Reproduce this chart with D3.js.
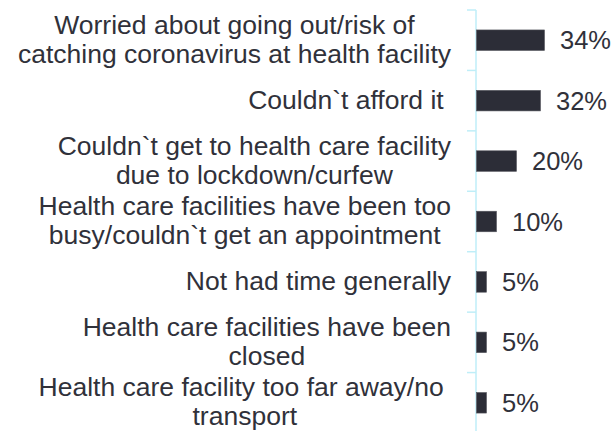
<!DOCTYPE html>
<html>
<head>
<meta charset="utf-8">
<script src="https://cdn.jsdelivr.net/npm/d3@7/dist/d3.min.js"></script>
<style>
  html, body { margin: 0; padding: 0; background: #ffffff; }
  svg { display: block; }
  text { font-family: "Liberation Sans", Arial, sans-serif; fill: #30313a; }
</style>
</head>
<body>
<svg id="chart" width="615" height="431"></svg>
<script>
// ---- data ----
const categories = [
  ["Worried about going out/risk of", "catching coronavirus at health facility"],
  ["Couldn`t afford it "],
  ["Couldn`t get to health care facility", "due to lockdown/curfew"],
  ["Health care facilities have been too", "busy/couldn`t get an appointment"],
  ["Not had time generally"],
  ["Health care facilities have been", "closed"],
  ["Health care facility too far away/no ", "transport"]
];
const values = [34, 32, 20, 10, 5, 5, 5];
const valueLabels = ["34%", "32%", "20%", "10%", "5%", "5%", "5%"];

// ---- layout ----
const W = 615, H = 431;
const axisX = 476;
const plotTop = 10, plotBottom = 433;
const fontSize = 26.5;
const valueFontSize = 25.5;
const lineH = 29;
const labelRight = 451;

const svg = d3.select("#chart");

const y = d3.scaleBand()
  .domain(d3.range(categories.length))
  .range([plotTop, plotBottom])
  .paddingInner(0.66)
  .paddingOuter(0.33);

const x = d3.scaleLinear().domain([0, 40]).range([axisX, axisX + 80]);

// axis line + ticks at band boundaries
const boundaries = d3.range(categories.length + 1).map(i => plotTop + i * (plotBottom - plotTop) / categories.length);
const axisColor = "#bfeef8";
svg.append("line")
  .attr("x1", axisX).attr("x2", axisX)
  .attr("y1", plotTop).attr("y2", H)
  .attr("stroke", axisColor).attr("stroke-width", 1.5);
svg.selectAll("line.tick").data(boundaries).enter().append("line")
  .attr("class", "tick")
  .attr("x1", axisX - 9).attr("x2", axisX)
  .attr("y1", d => d).attr("y2", d => d)
  .attr("stroke", axisColor).attr("stroke-width", 1.5);

// bars
svg.selectAll("rect.bar").data(values).enter().append("rect")
  .attr("class", "bar")
  .attr("x", x(0) + 0.5)
  .attr("y", (d, i) => y(i))
  .attr("width", d => x(d) - x(0))
  .attr("height", y.bandwidth())
  .attr("fill", "#2c2d37")
  .attr("stroke", "#55565e")
  .attr("stroke-width", 0.6);

// value labels
svg.selectAll("text.val").data(values).enter().append("text")
  .attr("class", "val")
  .attr("x", d => x(d) + 16)
  .attr("y", (d, i) => y(i) + y.bandwidth() / 2 + 9)
  .attr("font-size", valueFontSize)
  .text((d, i) => valueLabels[i]);

// category labels: block right-aligned, lines centered
categories.forEach((lines, i) => {
  const cy = y(i) + y.bandwidth() / 2;
  const g = svg.append("g");
  const firstBase = cy - (lines.length - 1) * lineH / 2 + 8;
  const texts = lines.map((ln, j) => g.append("text")
    .attr("font-size", fontSize)
    .attr("y", firstBase + j * lineH)
    .attr("text-anchor", "middle")
    .style("white-space", "pre")
    .text(ln));
  const maxW = d3.max(texts, t => t.node().getComputedTextLength());
  texts.forEach(t => t.attr("x", labelRight - maxW / 2));
});
</script>
</body>
</html>
